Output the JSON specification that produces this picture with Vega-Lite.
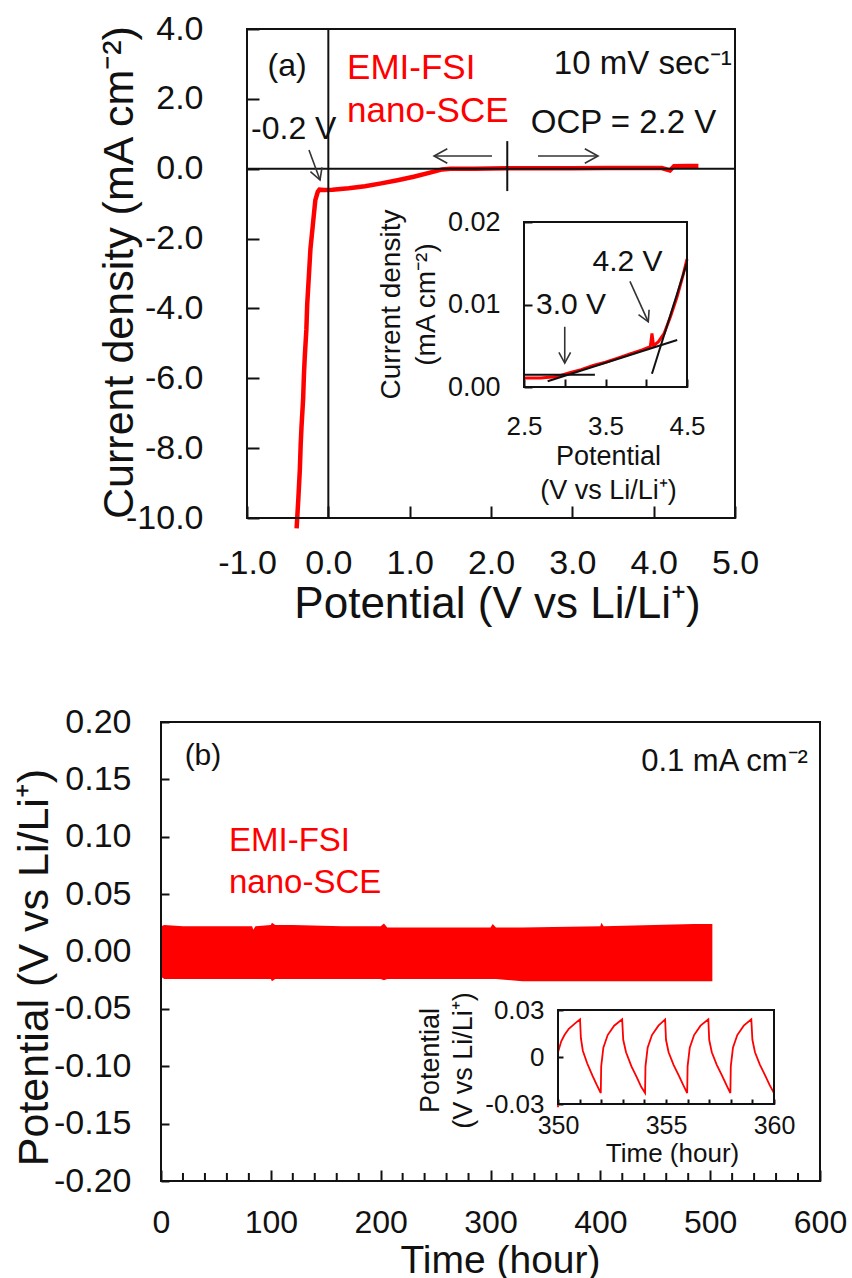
{
  "$schema": "https://vega.github.io/schema/vega-lite/v6.json",
  "width": 852,
  "height": 1278,
  "autosize": {"type": "none"},
  "padding": 0,
  "background": "white",
  "config": {
    "view": {"stroke": null},
    "font": "Liberation Sans",
    "locale": {"number": {"decimal": ".", "thousands": ",", "grouping": [3], "currency": ["$", ""], "minus": "-"}},
    "axis": {
      "domain": false, "grid": false, "labelFlush": false, "labelOverlap": false, "labelBound": false,
      "labelColor": "#111", "titleColor": "#111", "tickColor": "#111", "tickWidth": 2,
      "titleFontWeight": "normal", "titleBaseline": "middle", "titleAlign": "center"
    },
    "text": {"font": "Liberation Sans"}
  },
  "datasets": {
    "sweep": [
      {"p": -0.39, "j": -10.3}, {"p": -0.37, "j": -9.5}, {"p": -0.35, "j": -8.6}, {"p": -0.34, "j": -7.9},
      {"p": -0.33, "j": -7.4}, {"p": -0.31, "j": -6.6}, {"p": -0.30, "j": -5.9}, {"p": -0.29, "j": -5.4},
      {"p": -0.27, "j": -4.6}, {"p": -0.26, "j": -3.9}, {"p": -0.24, "j": -3.1}, {"p": -0.22, "j": -2.3},
      {"p": -0.19, "j": -1.6}, {"p": -0.16, "j": -0.9}, {"p": -0.13, "j": -0.66}, {"p": -0.11, "j": -0.6},
      {"p": -0.05, "j": -0.61}, {"p": 0.05, "j": -0.6}, {"p": 0.25, "j": -0.56}, {"p": 0.45, "j": -0.5},
      {"p": 0.65, "j": -0.42}, {"p": 0.85, "j": -0.33}, {"p": 1.05, "j": -0.23}, {"p": 1.25, "j": -0.11},
      {"p": 1.4, "j": -0.02}, {"p": 1.5, "j": 0.0},
      {"p": 1.8, "j": 0.0}, {"p": 2.2, "j": 0.01}, {"p": 2.6, "j": 0.01}, {"p": 3.0, "j": 0.01},
      {"p": 3.4, "j": 0.02}, {"p": 3.8, "j": 0.02}, {"p": 4.1, "j": 0.02}, {"p": 4.2, "j": -0.05},
      {"p": 4.25, "j": 0.07}, {"p": 4.4, "j": 0.08}, {"p": 4.55, "j": 0.08}
    ],
    "anodic": [
      {"p": 2.5, "j": 0.0011}, {"p": 2.7, "j": 0.0011}, {"p": 2.85, "j": 0.0012}, {"p": 2.95, "j": 0.0014},
      {"p": 3.05, "j": 0.0017}, {"p": 3.2, "j": 0.0021}, {"p": 3.35, "j": 0.0026}, {"p": 3.5, "j": 0.003},
      {"p": 3.65, "j": 0.0035}, {"p": 3.8, "j": 0.004}, {"p": 3.95, "j": 0.0045}, {"p": 4.05, "j": 0.0049},
      {"p": 4.07, "j": 0.0065}, {"p": 4.09, "j": 0.005}, {"p": 4.15, "j": 0.0055}, {"p": 4.22, "j": 0.0065},
      {"p": 4.3, "j": 0.0086}, {"p": 4.38, "j": 0.011}, {"p": 4.45, "j": 0.0135}, {"p": 4.5, "j": 0.0155}
    ],
    "tangents": [
      {"p": 2.5, "j": 0.0015, "p2": 3.37, "j2": 0.0015},
      {"p": 2.79, "j": 0.0007, "p2": 4.38, "j2": 0.0057},
      {"p": 4.07, "j": 0.0016, "p2": 4.5, "j2": 0.0151}
    ],
    "cycling": [
      {"t": 0, "hi": 0.022, "lo": -0.022}, {"t": 3, "hi": 0.023, "lo": -0.024}, {"t": 20, "hi": 0.022, "lo": -0.024},
      {"t": 50, "hi": 0.022, "lo": -0.024}, {"t": 83, "hi": 0.022, "lo": -0.024}, {"t": 84, "hi": 0.019, "lo": -0.024},
      {"t": 86, "hi": 0.022, "lo": -0.024}, {"t": 100, "hi": 0.023, "lo": -0.024}, {"t": 101, "hi": 0.025, "lo": -0.026},
      {"t": 104, "hi": 0.023, "lo": -0.024}, {"t": 120, "hi": 0.023, "lo": -0.024}, {"t": 165, "hi": 0.022, "lo": -0.024},
      {"t": 200, "hi": 0.022, "lo": -0.024}, {"t": 203, "hi": 0.0245, "lo": -0.025}, {"t": 206, "hi": 0.021, "lo": -0.024},
      {"t": 250, "hi": 0.021, "lo": -0.024}, {"t": 300, "hi": 0.021, "lo": -0.024}, {"t": 302, "hi": 0.024, "lo": -0.024},
      {"t": 305, "hi": 0.021, "lo": -0.024}, {"t": 329, "hi": 0.021, "lo": -0.026}, {"t": 400, "hi": 0.022, "lo": -0.026},
      {"t": 401, "hi": 0.025, "lo": -0.026}, {"t": 403, "hi": 0.022, "lo": -0.026}, {"t": 485, "hi": 0.024, "lo": -0.026},
      {"t": 502, "hi": 0.024, "lo": -0.026}
    ],
    "hourticks": [
      {"t": 20}, {"t": 40}, {"t": 60}, {"t": 80}, {"t": 120}, {"t": 140}, {"t": 160}, {"t": 180},
      {"t": 220}, {"t": 240}, {"t": 260}, {"t": 280}, {"t": 320}, {"t": 340}, {"t": 360}, {"t": 380},
      {"t": 420}, {"t": 440}, {"t": 460}, {"t": 480}, {"t": 520}, {"t": 540}, {"t": 560}, {"t": 580}
    ],
    "zoomcycles": [
      {"t": 350.0, "v": -0.032}, {"t": 350.0, "v": 0.003}, {"t": 350.15, "v": 0.01}, {"t": 350.3, "v": 0.014},
      {"t": 350.5, "v": 0.018}, {"t": 350.75, "v": 0.021}, {"t": 351.02, "v": 0.024}, {"t": 351.06, "v": 0.012},
      {"t": 351.15, "v": 0.004}, {"t": 351.35, "v": -0.004}, {"t": 351.6, "v": -0.012}, {"t": 351.8, "v": -0.018},
      {"t": 351.98, "v": -0.023}, {"t": 352.0, "v": -0.006}, {"t": 352.1, "v": 0.006}, {"t": 352.3, "v": 0.014},
      {"t": 352.6, "v": 0.02}, {"t": 352.97, "v": 0.024}, {"t": 353.02, "v": 0.011}, {"t": 353.15, "v": 0.003},
      {"t": 353.4, "v": -0.006}, {"t": 353.65, "v": -0.013}, {"t": 353.85, "v": -0.019}, {"t": 354.03, "v": -0.023},
      {"t": 354.05, "v": -0.006}, {"t": 354.15, "v": 0.006}, {"t": 354.35, "v": 0.014}, {"t": 354.65, "v": 0.02},
      {"t": 354.96, "v": 0.024}, {"t": 355.0, "v": 0.011}, {"t": 355.12, "v": 0.003}, {"t": 355.35, "v": -0.005},
      {"t": 355.6, "v": -0.012}, {"t": 355.8, "v": -0.018}, {"t": 355.98, "v": -0.023}, {"t": 356.0, "v": -0.006},
      {"t": 356.1, "v": 0.006}, {"t": 356.3, "v": 0.014}, {"t": 356.6, "v": 0.02}, {"t": 356.96, "v": 0.024},
      {"t": 357.0, "v": 0.011}, {"t": 357.12, "v": 0.003}, {"t": 357.35, "v": -0.005}, {"t": 357.6, "v": -0.012},
      {"t": 357.8, "v": -0.018}, {"t": 357.98, "v": -0.023}, {"t": 358.0, "v": -0.006}, {"t": 358.1, "v": 0.006},
      {"t": 358.3, "v": 0.014}, {"t": 358.6, "v": 0.02}, {"t": 358.95, "v": 0.024}, {"t": 359.0, "v": 0.011},
      {"t": 359.12, "v": 0.003}, {"t": 359.35, "v": -0.005}, {"t": 359.6, "v": -0.012}, {"t": 359.8, "v": -0.018},
      {"t": 360.0, "v": -0.023}
    ]
  },
  "layer": [
    {
      "layer": [
        {
          "data": {"name": "sweep"},
          "mark": {"type": "line", "color": "#ff0000", "strokeWidth": 4.5, "clip": true},
          "encoding": {
            "x": {"field": "p", "type": "quantitative",
              "scale": {"domain": [-1, 5], "range": [247, 735], "nice": false, "zero": false},
              "axis": {"orient": "bottom", "offset": -760, "values": [-1, 0, 1, 2, 3, 4, 5], "format": ".1f", "labelOverlap": false,
                "labelFontSize": 34, "labelBaseline": "middle", "labelPadding": 57, "tickSize": -12,
                "title": "Potential (V vs Li/Li⁺)", "titleFontSize": 44, "titleX": 497, "titleY": 86}},
            "y": {"field": "j", "type": "quantitative",
              "scale": {"domain": [-10, 4], "range": [518, 29], "nice": false, "zero": false},
              "axis": {"orient": "left", "offset": -247, "values": [-10, -8, -6, -4, -2, 0, 2, 4], "format": ".1f", "labelOverlap": false,
                "labelFontSize": 34, "labelPadding": 56, "tickSize": -12,
                "title": "Current density (mA cm⁻²)", "titleFontSize": 43, "titleAngle": -90, "titleX": -128, "titleY": 272}},
            "order": {"value": null}
          }
        },
        {
          "data": {"values": [{}]},
          "mark": {"type": "rect", "filled": false, "stroke": "#111", "strokeWidth": 2},
          "encoding": {"x": {"datum": -1, "type": "quantitative"}, "x2": {"datum": 5},
            "y": {"datum": -10, "type": "quantitative"}, "y2": {"datum": 4}}
        },
        {
          "data": {"values": [{}]},
          "mark": {"type": "rule", "color": "#111", "strokeWidth": 2},
          "encoding": {"x": {"datum": 0, "type": "quantitative"}, "y": {"datum": -10, "type": "quantitative"}, "y2": {"datum": 4}}
        },
        {
          "data": {"values": [{}]},
          "mark": {"type": "rule", "color": "#111", "strokeWidth": 2},
          "encoding": {"y": {"datum": 0, "type": "quantitative"}, "x": {"datum": -1, "type": "quantitative"}, "x2": {"datum": 5}}
        },
        {
          "data": {"values": [{"ocp": 2.2}]},
          "mark": {"type": "rule", "color": "#111", "strokeWidth": 2},
          "encoding": {"x": {"field": "ocp", "type": "quantitative"}, "y": {"datum": -0.64, "type": "quantitative"}, "y2": {"datum": 0.79}}
        },
        {
          "data": {"values": [
            {"p": -0.238, "j": 0.536, "p2": -0.102, "j2": -0.323},
            {"p": 2.012, "j": 0.364, "p2": 1.3, "j2": 0.364},
            {"p": 2.578, "j": 0.364, "p2": 3.316, "j2": 0.364}
          ]},
          "mark": {"type": "rule", "color": "#333", "strokeWidth": 1.6},
          "encoding": {"x": {"field": "p", "type": "quantitative"}, "y": {"field": "j", "type": "quantitative"}, "x2": {"field": "p2"}, "y2": {"field": "j2"}}
        },
        {
          "data": {"values": [{"p": -0.102, "j": -0.323}]},
          "mark": {"type": "point", "shape": "M-1,-0.55L0,0L-1,0.55", "filled": false, "color": "#333", "strokeWidth": 1.6, "size": 500, "opacity": 1, "angle": 70},
          "encoding": {"x": {"field": "p", "type": "quantitative"}, "y": {"field": "j", "type": "quantitative"}}
        },
        {
          "data": {"values": [{"p": 1.3, "j": 0.364}]},
          "mark": {"type": "point", "shape": "M-1,-0.55L0,0L-1,0.55", "filled": false, "color": "#333", "strokeWidth": 1.6, "size": 700, "opacity": 1, "angle": 180},
          "encoding": {"x": {"field": "p", "type": "quantitative"}, "y": {"field": "j", "type": "quantitative"}}
        },
        {
          "data": {"values": [{"p": 3.316, "j": 0.364}]},
          "mark": {"type": "point", "shape": "M-1,-0.55L0,0L-1,0.55", "filled": false, "color": "#333", "strokeWidth": 1.6, "size": 700, "opacity": 1, "angle": 0},
          "encoding": {"x": {"field": "p", "type": "quantitative"}, "y": {"field": "j", "type": "quantitative"}}
        },
        {
          "data": {"values": [{"p": -0.508, "j": 2.94, "s": "(a)"}]},
          "mark": {"type": "text", "fontSize": 32, "color": "#111", "align": "center", "baseline": "middle"},
          "encoding": {"x": {"field": "p", "type": "quantitative"}, "y": {"field": "j", "type": "quantitative"}, "text": {"field": "s"}}
        },
        {
          "data": {"values": [{"p": 0.23, "j": 2.88, "s": "EMI-FSI"}, {"p": 0.23, "j": 1.65, "s": "nano-SCE"}]},
          "mark": {"type": "text", "fontSize": 35, "color": "#ff0000", "align": "left", "baseline": "middle"},
          "encoding": {"x": {"field": "p", "type": "quantitative"}, "y": {"field": "j", "type": "quantitative"}, "text": {"field": "s"}}
        },
        {
          "data": {"values": [{"p": 4.96, "j": 3.0, "s": "10 mV sec⁻¹"}, {"p": 4.77, "j": 1.31, "s": "OCP = 2.2 V"}]},
          "mark": {"type": "text", "fontSize": 33, "color": "#111", "align": "right", "baseline": "middle"},
          "encoding": {"x": {"field": "p", "type": "quantitative"}, "y": {"field": "j", "type": "quantitative"}, "text": {"field": "s"}}
        },
        {
          "data": {"values": [{"p": -0.95, "j": 1.14, "s": "-0.2 V"}]},
          "mark": {"type": "text", "fontSize": 32, "color": "#111", "align": "left", "baseline": "middle"},
          "encoding": {"x": {"field": "p", "type": "quantitative"}, "y": {"field": "j", "type": "quantitative"}, "text": {"field": "s"}}
        }
      ]
    },
    {
      "layer": [
        {
          "data": {"name": "anodic"},
          "mark": {"type": "line", "color": "#ff0000", "strokeWidth": 3, "clip": true},
          "encoding": {
            "x": {"field": "p", "type": "quantitative",
              "scale": {"domain": [2.5, 4.5], "range": [524, 687], "nice": false, "zero": false},
              "axis": {"orient": "bottom", "offset": -891, "values": [2.5, 3, 3.5, 4, 4.5], "labelOverlap": false,
                "labelExpr": "datum.value === 3 || datum.value === 4 ? '' : format(datum.value, '.1f')",
                "labelFontSize": 26, "labelBaseline": "middle", "labelPadding": 47, "tickSize": -8,
                "title": ["Potential", "(V vs Li/Li⁺)"], "titleFontSize": 27, "titleLineHeight": 34, "titleX": 608, "titleY": 69}},
            "y": {"field": "j", "type": "quantitative",
              "scale": {"domain": [0, 0.02], "range": [387, 222], "nice": false, "zero": false},
              "axis": {"orient": "left", "offset": -524, "values": [0, 0.01, 0.02], "format": ".2f", "labelOverlap": false,
                "labelFontSize": 27, "labelPadding": 32, "tickSize": -8,
                "title": ["Current density", "(mA cm⁻²)"], "titleFontSize": 28, "titleLineHeight": 35, "titleAngle": -90, "titleX": -133, "titleY": 304}},
            "order": {"value": null}
          }
        },
        {
          "data": {"values": [{}]},
          "mark": {"type": "rect", "filled": false, "stroke": "#111", "strokeWidth": 2},
          "encoding": {"x": {"datum": 2.5, "type": "quantitative"}, "x2": {"datum": 4.5},
            "y": {"datum": 0, "type": "quantitative"}, "y2": {"datum": 0.02}}
        },
        {
          "data": {"name": "tangents"},
          "mark": {"type": "rule", "color": "#111", "strokeWidth": 2, "clip": true},
          "encoding": {"x": {"field": "p", "type": "quantitative"}, "y": {"field": "j", "type": "quantitative"}, "x2": {"field": "p2"}, "y2": {"field": "j2"}}
        },
        {
          "data": {"values": [
            {"p": 3.0, "j": 0.0073, "p2": 3.0, "j2": 0.0029},
            {"p": 3.8, "j": 0.0128, "p2": 4.025, "j2": 0.0079}
          ]},
          "mark": {"type": "rule", "color": "#333", "strokeWidth": 1.6},
          "encoding": {"x": {"field": "p", "type": "quantitative"}, "y": {"field": "j", "type": "quantitative"}, "x2": {"field": "p2"}, "y2": {"field": "j2"}}
        },
        {
          "data": {"values": [{"p": 3.0, "j": 0.0029}]},
          "mark": {"type": "point", "shape": "M-1,-0.55L0,0L-1,0.55", "filled": false, "color": "#333", "strokeWidth": 1.6, "size": 450, "opacity": 1, "angle": 90},
          "encoding": {"x": {"field": "p", "type": "quantitative"}, "y": {"field": "j", "type": "quantitative"}}
        },
        {
          "data": {"values": [{"p": 4.025, "j": 0.0079}]},
          "mark": {"type": "point", "shape": "M-1,-0.55L0,0L-1,0.55", "filled": false, "color": "#333", "strokeWidth": 1.6, "size": 450, "opacity": 1, "angle": 65},
          "encoding": {"x": {"field": "p", "type": "quantitative"}, "y": {"field": "j", "type": "quantitative"}}
        },
        {
          "data": {"values": [{"p": 3.77, "j": 0.0152, "s": "4.2 V"}, {"p": 3.077, "j": 0.0099, "s": "3.0 V"}]},
          "mark": {"type": "text", "fontSize": 30, "color": "#111", "align": "center", "baseline": "middle"},
          "encoding": {"x": {"field": "p", "type": "quantitative"}, "y": {"field": "j", "type": "quantitative"}, "text": {"field": "s"}}
        }
      ]
    },
    {
      "layer": [
        {
          "data": {"name": "cycling"},
          "mark": {"type": "area", "color": "#ff0000", "opacity": 1, "clip": true},
          "encoding": {
            "x": {"field": "t", "type": "quantitative",
              "scale": {"domain": [0, 600], "range": [161, 820], "nice": false, "zero": false},
              "axis": {"orient": "bottom", "offset": -97, "labelOverlap": false,
                "values": [0, 100, 200, 300, 400, 500, 600], "format": "d",
                "labelFontSize": 32, "labelBaseline": "middle", "labelPadding": 52, "tickSize": -11,
                "title": "Time (hour)", "titleFontSize": 39, "titleX": 500, "titleY": 79}},
            "y": {"field": "hi", "type": "quantitative",
              "scale": {"domain": [-0.2, 0.2], "range": [1181, 722], "nice": false, "zero": false},
              "axis": {"orient": "left", "offset": -161, "values": [-0.2, -0.15, -0.1, -0.05, 0, 0.05, 0.1, 0.15, 0.2], "format": ".2f", "labelOverlap": false,
                "labelFontSize": 34, "labelPadding": 38, "tickSize": -8,
                "title": "Potential (V vs Li/Li⁺)", "titleFontSize": 43, "titleAngle": -90, "titleX": -127, "titleY": 967}},
            "y2": {"field": "lo"}
          }
        },
        {
          "data": {"name": "hourticks"},
          "mark": {"type": "rule", "color": "#111", "strokeWidth": 2},
          "encoding": {"x": {"field": "t", "type": "quantitative"}, "y": {"datum": -0.2, "type": "quantitative"}, "y2": {"datum": -0.193}}
        },
        {
          "data": {"values": [{}]},
          "mark": {"type": "rect", "filled": false, "stroke": "#111", "strokeWidth": 2},
          "encoding": {"x": {"datum": 0, "type": "quantitative"}, "x2": {"datum": 600},
            "y": {"datum": -0.2, "type": "quantitative"}, "y2": {"datum": 0.2}}
        },
        {
          "data": {"values": [{"t": 38.2, "v": 0.1704, "s": "(b)"}]},
          "mark": {"type": "text", "fontSize": 30, "color": "#111", "align": "center", "baseline": "middle"},
          "encoding": {"x": {"field": "t", "type": "quantitative"}, "y": {"field": "v", "type": "quantitative"}, "text": {"field": "s"}}
        },
        {
          "data": {"values": [{"t": 589, "v": 0.165, "s": "0.1 mA cm⁻²"}]},
          "mark": {"type": "text", "fontSize": 31, "color": "#111", "align": "right", "baseline": "middle"},
          "encoding": {"x": {"field": "t", "type": "quantitative"}, "y": {"field": "v", "type": "quantitative"}, "text": {"field": "s"}}
        },
        {
          "data": {"values": [{"t": 61.9, "v": 0.0963, "s": "EMI-FSI"}, {"t": 61.9, "v": 0.0597, "s": "nano-SCE"}]},
          "mark": {"type": "text", "fontSize": 33, "color": "#ff0000", "align": "left", "baseline": "middle"},
          "encoding": {"x": {"field": "t", "type": "quantitative"}, "y": {"field": "v", "type": "quantitative"}, "text": {"field": "s"}}
        }
      ]
    },
    {
      "layer": [
        {
          "data": {"name": "zoomcycles"},
          "mark": {"type": "line", "color": "#ff0000", "strokeWidth": 1.8, "clip": true},
          "encoding": {
            "x": {"field": "t", "type": "quantitative",
              "scale": {"domain": [350, 360], "range": [558, 774], "nice": false, "zero": false},
              "axis": {"orient": "bottom", "offset": -174, "values": [350, 351, 352, 353, 354, 355, 356, 357, 358, 359, 360], "labelOverlap": false,
                "labelExpr": "datum.value % 5 === 0 ? format(datum.value, 'd') : ''",
                "labelFontSize": 25, "labelBaseline": "middle", "labelPadding": 26, "tickSize": -5,
                "title": "Time  (hour)", "titleFontSize": 26, "titleX": 672, "titleY": 49}},
            "y": {"field": "v", "type": "quantitative",
              "scale": {"domain": [-0.03, 0.03], "range": [1104, 1010], "nice": false, "zero": false},
              "axis": {"orient": "left", "offset": -558, "values": [-0.03, 0, 0.03], "labelOverlap": false,
                "labelExpr": "datum.value === 0 ? '0' : format(datum.value, '.2f')",
                "labelFontSize": 26, "labelPadding": 19, "tickSize": -5,
                "title": ["Potential", "(V vs Li/Li⁺)"], "titleFontSize": 27, "titleLineHeight": 33, "titleAngle": -90, "titleX": -128, "titleY": 1060}},
            "order": {"value": null}
          }
        },
        {
          "data": {"values": [{}]},
          "mark": {"type": "rect", "filled": false, "stroke": "#111", "strokeWidth": 2},
          "encoding": {"x": {"datum": 350, "type": "quantitative"}, "x2": {"datum": 360},
            "y": {"datum": -0.03, "type": "quantitative"}, "y2": {"datum": 0.03}}
        }
      ]
    }
  ],
  "resolve": {"scale": {"x": "independent", "y": "independent"}, "axis": {"x": "independent", "y": "independent"}}
}
